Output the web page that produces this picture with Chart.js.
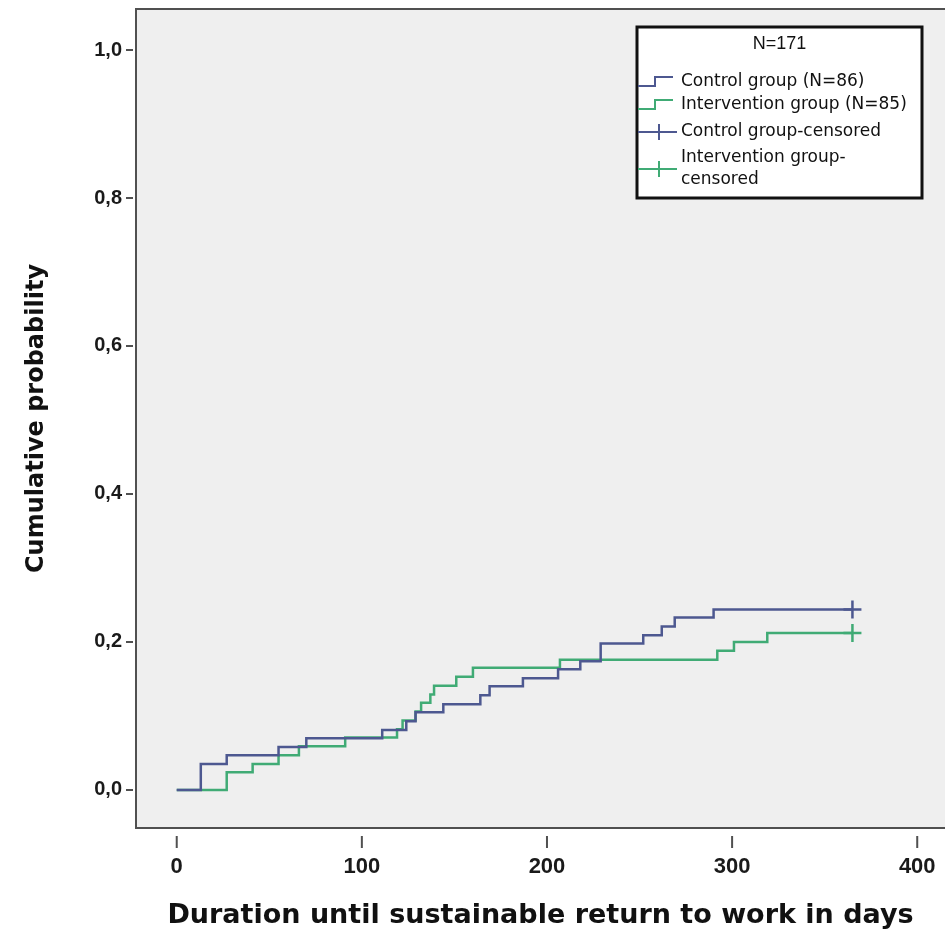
<!DOCTYPE html>
<html>
<head>
<meta charset="utf-8">
<script src="https://cdn.jsdelivr.net/npm/chart.js@4.4.1/dist/chart.umd.min.js"></script>
<style>
  html, body { margin: 0; padding: 0; background: #fff; overflow: hidden; }
  canvas { display: block; }
</style>
</head>
<body>
<canvas id="graficoKM" width="945" height="938"></canvas>
<script>
// valores (dias, probabilidade acumulada)
const controlDays = [0, 13, 27, 55, 70, 111, 124, 129, 144, 164, 169, 187, 206, 218, 229, 252, 262, 269, 290, 365];
const controlProb = [0, 0.035, 0.047, 0.058, 0.070, 0.081, 0.093, 0.105, 0.116, 0.128, 0.140, 0.151, 0.163, 0.174, 0.198, 0.209, 0.221, 0.233, 0.244, 0.244];

const interventionDays = [0, 27, 41, 55, 66, 91, 119, 122, 129, 132, 137, 139, 151, 160, 207, 292, 301, 319, 365];
const interventionProb = [0, 0.024, 0.035, 0.047, 0.059, 0.071, 0.082, 0.094, 0.106, 0.118, 0.129, 0.141, 0.153, 0.165, 0.176, 0.188, 0.200, 0.212, 0.212];

const censorDay = 365;

const xTicks = [0, 100, 200, 300, 400];
const yTicks = [0, 0.2, 0.4, 0.6, 0.8, 1.0];

const legendTitle = "N=171";
const legendLabels = ["Control group (N=86)", "Intervention group (N=85)", "Control group-censored", "Intervention group-", "censored"];

const corControl = "#4d5890";
const corIntervention = "#40ab75";

const fonteTitulo = '"DejaVu Sans", Verdana, sans-serif';
const fonteTicks = '"Liberation Sans", Arial, sans-serif';

function pontos(xs, ys) {
    return xs.map(function (x, i) { return { x: x, y: ys[i] }; });
}

// fundo cinza, moldura e marcas dos eixos
const frame = {
    id: "frame",
    beforeDatasetsDraw(chart) {
        const c = chart.ctx;
        const a = chart.chartArea;
        const sx = chart.scales.x;
        const sy = chart.scales.y;
        c.save();
        c.fillStyle = "#efefef";
        c.fillRect(a.left, a.top, a.right - a.left, a.bottom - a.top);
        c.strokeStyle = "#505050";
        c.lineWidth = 2;
        c.beginPath();
        c.moveTo(a.right + 2, a.top);
        c.lineTo(a.left, a.top);
        c.lineTo(a.left, a.bottom);
        c.lineTo(a.right + 2, a.bottom);
        c.stroke();
        c.beginPath();
        xTicks.forEach(function (t) {
            const px = sx.getPixelForValue(t);
            c.moveTo(px, a.bottom + 8);
            c.lineTo(px, a.bottom + 20);
        });
        yTicks.forEach(function (t) {
            const py = sy.getPixelForValue(t);
            c.moveTo(a.left - 10, py);
            c.lineTo(a.left - 3, py);
        });
        c.stroke();
        c.restore();
    }
};

// legenda no estilo SPSS
const kmLegend = {
    id: "kmLegend",
    afterDraw(chart) {
        const c = chart.ctx;
        const x0 = 637, y0 = 27, w = 285, h = 171;
        c.save();
        c.fillStyle = "#ffffff";
        c.fillRect(x0, y0, w, h);
        c.lineWidth = 3;
        c.strokeStyle = "#111";
        c.strokeRect(x0, y0, w, h);

        c.fillStyle = "#111";
        c.font = '18px ' + fonteTicks;
        c.textAlign = "center";
        c.textBaseline = "middle";
        c.fillText(legendTitle, x0 + w / 2, 44);

        c.textAlign = "left";
        c.font = '17px ' + fonteTitulo;
        const tx = 681;
        const ys = [82, 105, 132, 158, 180];
        legendLabels.forEach(function (t, i) {
            c.fillText(t, tx, ys[i]);
        });

        c.lineWidth = 2;
        // degraus
        [[corControl, 82], [corIntervention, 105]].forEach(function (d) {
            c.strokeStyle = d[0];
            c.beginPath();
            c.moveTo(x0 + 1, d[1] + 4);
            c.lineTo(655, d[1] + 4);
            c.lineTo(655, d[1] - 5);
            c.lineTo(673, d[1] - 5);
            c.stroke();
        });
        // censurados
        [[corControl, 132], [corIntervention, 169]].forEach(function (d) {
            c.strokeStyle = d[0];
            c.beginPath();
            c.moveTo(x0 + 1, d[1]);
            c.lineTo(677, d[1]);
            c.moveTo(659, d[1] - 8);
            c.lineTo(659, d[1] + 8);
            c.stroke();
        });
        c.restore();
    }
};

document.addEventListener("DOMContentLoaded", function () {

    const ctx = document.getElementById("graficoKM");

    new Chart(ctx, {
        type: "line",
        data: {
            datasets: [
                {
                    label: legendLabels[0],
                    data: pontos(controlDays, controlProb),
                    borderColor: corControl,
                    borderWidth: 2.5,
                    stepped: "before",
                    pointRadius: 0,
                    fill: false
                },
                {
                    label: legendLabels[1],
                    data: pontos(interventionDays, interventionProb),
                    borderColor: corIntervention,
                    borderWidth: 2.5,
                    stepped: "before",
                    pointRadius: 0,
                    fill: false
                },
                {
                    label: legendLabels[2],
                    data: [{ x: censorDay, y: controlProb[controlProb.length - 1] }],
                    showLine: false,
                    pointStyle: "cross",
                    pointRadius: 9,
                    borderWidth: 2.5,
                    borderColor: corControl
                },
                {
                    label: legendLabels[3] + legendLabels[4],
                    data: [{ x: censorDay, y: interventionProb[interventionProb.length - 1] }],
                    showLine: false,
                    pointStyle: "cross",
                    pointRadius: 9,
                    borderWidth: 2.5,
                    borderColor: corIntervention
                }
            ]
        },
        options: {
            responsive: false,
            animation: false,
            layout: { autoPadding: false, padding: { top: 9, right: 0, left: 0, bottom: 0 } },
            plugins: {
                legend: { display: false },
                tooltip: { enabled: false }
            },
            scales: {
                x: {
                    type: "linear",
                    min: -22,
                    max: 415,
                    afterBuildTicks: function (s) { s.ticks = xTicks.map(function (v) { return { value: v }; }); },
                    afterFit: function (s) {
                        s.height = 110;
                        s.paddingLeft = 0;
                        s.paddingRight = 0;
                    },
                    grid: { drawOnChartArea: false, drawTicks: false },
                    border: { display: false },
                    ticks: {
                        color: "#1a1a1a",
                        font: { family: fonteTicks, size: 22, weight: "bold" },
                        padding: 26,
                        maxRotation: 0
                    },
                    title: {
                        display: true,
                        text: "Duration until sustainable return to work in days",
                        color: "#111",
                        font: { family: fonteTitulo, size: 27, weight: "bold" },
                        padding: { top: 0, bottom: 6 }
                    }
                },
                y: {
                    type: "linear",
                    min: -0.0514,
                    max: 1.0554,
                    afterBuildTicks: function (s) { s.ticks = yTicks.map(function (v) { return { value: v }; }); },
                    afterFit: function (s) {
                        s.width = 136;
                        s.paddingTop = 0;
                        s.paddingBottom = 0;
                    },
                    grid: { drawOnChartArea: false, drawTicks: false },
                    border: { display: false },
                    ticks: {
                        color: "#1a1a1a",
                        font: { family: fonteTicks, size: 20, weight: "bold" },
                        padding: 14,
                        callback: function (v) { return v.toFixed(1).replace(".", ","); }
                    },
                    title: {
                        display: true,
                        text: "Cumulative probability",
                        color: "#111",
                        font: { family: fonteTitulo, size: 24, weight: "bold" },
                        padding: { top: 22, bottom: 0 }
                    }
                }
            }
        },
        plugins: [frame, kmLegend]
    });

});
</script>
</body>
</html>
